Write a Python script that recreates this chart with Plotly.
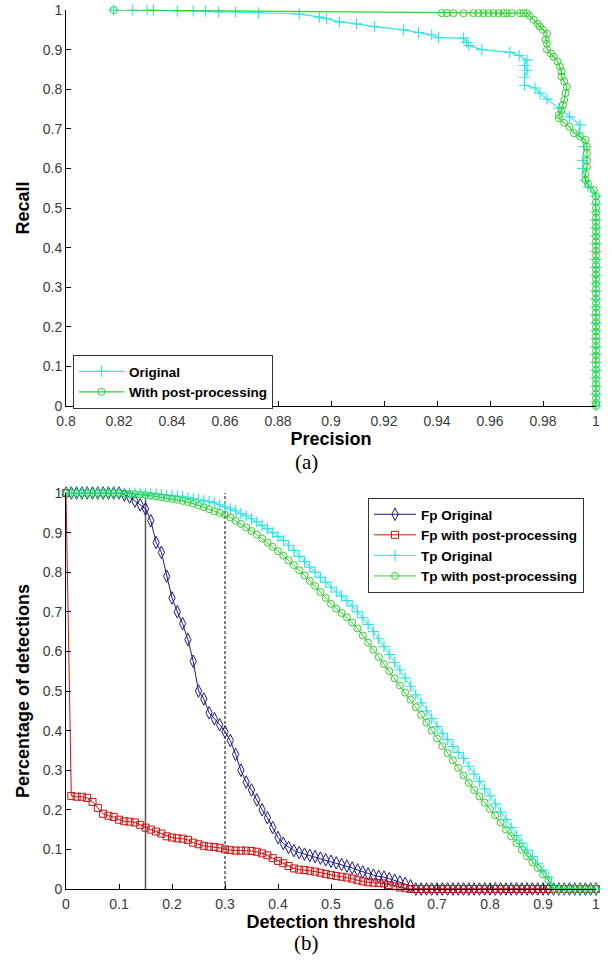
import plotly.graph_objects as go

# ---------------- (a) Precision / Recall ----------------
pr_orig_precision = [0.818, 0.825, 0.8306, 0.833, 0.842, 0.848, 0.8526, 0.8576, 0.864, 0.8727,
                     0.888, 0.8957, 0.8983, 0.9032, 0.9096, 0.9164, 0.9274, 0.933, 0.938, 0.9406,
                     0.950, 0.9512, 0.952, 0.9569, 0.9675, 0.971, 0.974, 0.973, 0.974, 0.973,
                     0.973, 0.977, 0.9788, 0.9815, 0.986, 0.990, 0.994, 0.9936, 0.9955, 0.995,
                     0.995, 0.996, 0.997,
                     1.0, 1.0, 1.0, 1.0, 1.0, 1.0, 1.0, 1.0, 1.0, 1.0, 1.0, 1.0, 1.0, 1.0,
                     1.0, 1.0, 1.0, 1.0, 1.0, 1.0, 1.0, 1.0, 1.0, 1.0, 1.0,
                     1.0, 1.0, 1.0]
pr_orig_recall = [1.0, 1.0, 1.0, 1.0, 0.998, 0.998, 0.997, 0.995, 0.995, 0.993,
                  0.99, 0.982, 0.978, 0.97, 0.965, 0.958, 0.95, 0.943, 0.937, 0.93,
                  0.929, 0.918, 0.91, 0.90, 0.893, 0.885, 0.874, 0.86, 0.848, 0.83,
                  0.81, 0.803, 0.79, 0.775, 0.752, 0.73, 0.71, 0.69, 0.655, 0.62,
                  0.60, 0.57, 0.553,
                  0.53, 0.51, 0.49, 0.47, 0.45, 0.43, 0.41, 0.39, 0.37, 0.35, 0.33, 0.31, 0.29, 0.27,
                  0.25, 0.23, 0.21, 0.19, 0.17, 0.15, 0.13, 0.11, 0.09, 0.07, 0.05,
                  0.03, 0.01, 0.0]

pr_post_precision = [0.818, 0.9418, 0.9437, 0.9462, 0.950, 0.9537, 0.9556, 0.9575, 0.9594, 0.9613,
                     0.9632, 0.9651, 0.9664, 0.9682, 0.9713, 0.9727, 0.974,
                     0.975, 0.9765, 0.978, 0.9788, 0.980, 0.9815, 0.981, 0.9815, 0.9815, 0.983,
                     0.984, 0.9855, 0.9864, 0.987, 0.987, 0.988, 0.989, 0.9885, 0.988, 0.9875,
                     0.987, 0.986, 0.986, 0.988, 0.990, 0.9917, 0.994, 0.996, 0.9966, 0.9966,
                     0.9966, 0.9966, 0.996, 0.996, 0.997, 0.9992, 1.0, 1.0]
pr_post_recall = [1.0, 0.992, 0.992, 0.992, 0.992, 0.992, 0.992, 0.992, 0.992, 0.992,
                  0.992, 0.992, 0.992, 0.992, 0.992, 0.992, 0.992,
                  0.985, 0.975, 0.965, 0.958, 0.95, 0.94, 0.925, 0.915, 0.90, 0.89,
                  0.882, 0.87, 0.857, 0.845, 0.832, 0.82, 0.806, 0.79, 0.773, 0.76,
                  0.747, 0.735, 0.727, 0.715, 0.705, 0.689, 0.68, 0.672, 0.655, 0.638,
                  0.62, 0.604, 0.585, 0.571, 0.56, 0.545, 0.53, 0.515]
pr_post_tail_recall = [0.50, 0.488, 0.476, 0.464, 0.452, 0.44, 0.428, 0.416, 0.404, 0.392,
                       0.38, 0.368, 0.356, 0.344, 0.332, 0.32, 0.308, 0.296, 0.284, 0.272,
                       0.26, 0.248, 0.236, 0.224, 0.212, 0.20, 0.188, 0.176, 0.164, 0.152,
                       0.14, 0.128, 0.116, 0.104, 0.092, 0.08, 0.068, 0.056, 0.044, 0.032,
                       0.02, 0.008, 0.0]
pr_post_tail_precision = [1.0] * len(pr_post_tail_recall)

prec_ticks = [0.8, 0.82, 0.84, 0.86, 0.88, 0.9, 0.92, 0.94, 0.96, 0.98, 1.0]
prec_ticklabels = ["0.8", "0.82", "0.84", "0.86", "0.88", "0.9", "0.92", "0.94", "0.96", "0.98", "1"]
unit_ticks = [0, 0.1, 0.2, 0.3, 0.4, 0.5, 0.6, 0.7, 0.8, 0.9, 1.0]
unit_ticklabels = ["0", "0.1", "0.2", "0.3", "0.4", "0.5", "0.6", "0.7", "0.8", "0.9", "1"]

# ---------------- (b) Detection threshold ----------------
threshold = [i / 100 for i in range(101)]

fp_original = [1, 1, 1, 1, 1, 1, 1, 1, 1, 1,
               1, 0.995, 0.99, 0.98, 0.97, 0.96, 0.93, 0.875, 0.85, 0.79,
               0.735, 0.70, 0.67, 0.63, 0.575, 0.50, 0.48, 0.445, 0.43, 0.415,
               0.397, 0.375, 0.34, 0.30, 0.27, 0.25, 0.225, 0.20, 0.18, 0.155,
               0.13, 0.115, 0.105, 0.097, 0.092, 0.088, 0.085, 0.082, 0.078, 0.074,
               0.07, 0.066, 0.062, 0.058, 0.053, 0.048, 0.043, 0.038, 0.035, 0.032,
               0.03, 0.026, 0.022, 0.018, 0.014, 0.008, 0, 0, 0, 0,
               0, 0, 0, 0, 0, 0, 0, 0, 0, 0,
               0, 0, 0, 0, 0, 0, 0, 0, 0, 0,
               0, 0, 0, 0, 0, 0, 0, 0, 0, 0,
               0]

fp_post = [1.0, 0.235, 0.233, 0.233, 0.23, 0.22, 0.205, 0.19, 0.185, 0.182,
           0.175, 0.171, 0.17, 0.168, 0.162, 0.155, 0.15, 0.145, 0.14, 0.133,
           0.13, 0.128, 0.127, 0.124, 0.117, 0.113, 0.109, 0.107, 0.106, 0.104,
           0.10, 0.098, 0.097, 0.097, 0.097, 0.096, 0.094, 0.09, 0.085, 0.078,
           0.071, 0.065, 0.058, 0.052, 0.049, 0.048, 0.046, 0.044, 0.041, 0.038,
           0.035, 0.033, 0.031, 0.029, 0.026, 0.022, 0.019, 0.017, 0.016, 0.015,
           0.014, 0.01, 0.007, 0.004, 0.002, 0, 0, 0, 0, 0,
           0, 0, 0, 0, 0, 0, 0, 0, 0, 0,
           0, 0, 0, 0, 0, 0, 0, 0, 0, 0,
           0, 0, 0, 0, 0, 0, 0, 0, 0, 0,
           0]

tp_original = [1, 1, 1, 1, 1, 1, 1, 1, 1, 1,
               1, 1, 1, 0.999, 0.999, 0.998, 0.998, 0.997, 0.996, 0.995,
               0.993, 0.992, 0.99, 0.988, 0.985, 0.983, 0.98, 0.978, 0.975, 0.97,
               0.965, 0.96, 0.955, 0.948, 0.942, 0.935, 0.927, 0.918, 0.91, 0.90,
               0.89, 0.88, 0.868, 0.855, 0.84, 0.827, 0.813, 0.80, 0.787, 0.775,
               0.762, 0.75, 0.74, 0.728, 0.715, 0.70, 0.685, 0.668, 0.65, 0.632,
               0.612, 0.592, 0.572, 0.553, 0.533, 0.512, 0.49, 0.47, 0.45, 0.43,
               0.41, 0.393, 0.377, 0.36, 0.345, 0.33, 0.31, 0.29, 0.272, 0.253,
               0.235, 0.215, 0.195, 0.175, 0.155, 0.135, 0.115, 0.098, 0.082, 0.065,
               0.047, 0.03, 0, 0, 0, 0, 0, 0, 0, 0,
               0]

tp_post = [1, 1, 1, 1, 1, 1, 1, 1, 1, 1,
           1, 0.999, 0.998, 0.997, 0.996, 0.995, 0.993, 0.991, 0.989, 0.987,
           0.985, 0.983, 0.98, 0.977, 0.973, 0.969, 0.964, 0.959, 0.954, 0.95,
           0.945, 0.938, 0.93, 0.922, 0.913, 0.904, 0.895, 0.885, 0.875, 0.864,
           0.853, 0.842, 0.83, 0.818, 0.805, 0.792, 0.778, 0.765, 0.75, 0.735,
           0.72, 0.708, 0.697, 0.686, 0.673, 0.658, 0.64, 0.622, 0.604, 0.586,
           0.568, 0.55, 0.532, 0.514, 0.496, 0.478, 0.459, 0.44, 0.42, 0.40,
           0.38, 0.361, 0.343, 0.325, 0.306, 0.287, 0.268, 0.25, 0.234, 0.218,
           0.202, 0.186, 0.168, 0.15, 0.133, 0.116, 0.099, 0.083, 0.068, 0.053,
           0.037, 0.022, 0, 0, 0, 0, 0, 0, 0, 0,
           0]

solid_threshold_x = [0.15, 0.15]
dashed_threshold_x = [0.3, 0.3]
threshold_line_y = [0, 1]

# ---------------- styling ----------------
CYAN = "#2ee6e6"
GREEN = "#2fd22f"
NAVY = "#1a1a8c"
RED = "#d01010"
TICKFONT = dict(family="Liberation Sans, Arial", size=14, color="#3a3a3a")
TITLEFONT = dict(family="Liberation Sans, Arial", size=18, color="black", weight="bold")
LEGFONT = dict(family="Liberation Sans, Arial", size=13.5, color="black", weight="bold")

W, H = 612, 965
x_dom = [66 / W, 596 / W]
top_dom = [1 - 406 / H, 1 - 10 / H]
bot_dom = [1 - 889 / H, 1 - 493 / H]

fig = go.Figure()

fig.add_trace(go.Scatter(
    x=pr_orig_precision, y=pr_orig_recall, name="Original", mode="lines+markers",
    line=dict(color=CYAN, width=1.2),
    marker=dict(symbol="cross-thin", size=8, line=dict(color=CYAN, width=1.1)),
    xaxis="x", yaxis="y", legend="legend", cliponaxis=False))
fig.add_trace(go.Scatter(
    x=pr_post_precision + pr_post_tail_precision, y=pr_post_recall + pr_post_tail_recall,
    name="With post-processing", mode="lines+markers",
    line=dict(color=GREEN, width=1.2),
    marker=dict(symbol="circle-open", size=7, color=GREEN, line=dict(width=1)),
    xaxis="x", yaxis="y", legend="legend", cliponaxis=False))

# bottom panel
fig.add_trace(go.Scatter(
    x=solid_threshold_x, y=threshold_line_y, mode="lines", showlegend=False,
    line=dict(color="#555555", width=1.5), xaxis="x2", yaxis="y2", hoverinfo="skip"))
fig.add_trace(go.Scatter(
    x=dashed_threshold_x, y=threshold_line_y, mode="lines", showlegend=False,
    line=dict(color="black", width=1, dash="3px,2px"), xaxis="x2", yaxis="y2", hoverinfo="skip"))

fig.add_trace(go.Scatter(
    x=threshold, y=fp_original, name="Fp Original", mode="lines+markers",
    line=dict(color=NAVY, width=1),
    marker=dict(symbol="diamond-tall-open", size=9, color=NAVY, line=dict(width=1)),
    xaxis="x2", yaxis="y2", legend="legend2", cliponaxis=False))
fig.add_trace(go.Scatter(
    x=threshold, y=fp_post, name="Fp with post-processing", mode="lines+markers",
    line=dict(color=RED, width=1),
    marker=dict(symbol="square-open", size=7, color=RED, line=dict(width=1)),
    xaxis="x2", yaxis="y2", legend="legend2", cliponaxis=False))
fig.add_trace(go.Scatter(
    x=threshold, y=tp_original, name="Tp Original", mode="lines+markers",
    line=dict(color=CYAN, width=1),
    marker=dict(symbol="cross-thin", size=8, line=dict(color=CYAN, width=1.2)),
    xaxis="x2", yaxis="y2", legend="legend2", cliponaxis=False))
fig.add_trace(go.Scatter(
    x=threshold, y=tp_post, name="Tp with post-processing", mode="lines+markers",
    line=dict(color=GREEN, width=1),
    marker=dict(symbol="circle-open", size=7, color=GREEN, line=dict(width=1)),
    xaxis="x2", yaxis="y2", legend="legend2", cliponaxis=False))

axis_common = dict(showgrid=False, zeroline=False, showline=True, linecolor="black", linewidth=1,
                   ticks="inside", ticklen=5, tickcolor="black", tickwidth=1,
                   tickfont=TICKFONT, mirror=False, automargin=False)

fig.update_layout(
    width=W, height=H,
    margin=dict(l=0, r=0, t=0, b=0),
    paper_bgcolor="white", plot_bgcolor="white",
    showlegend=True,
    xaxis=dict(domain=x_dom, range=[0.8, 1.0], tickvals=prec_ticks, ticktext=prec_ticklabels,
               anchor="y", ticklabelstandoff=2,
               title=dict(text="Precision", font=TITLEFONT, standoff=4), **axis_common),
    yaxis=dict(domain=top_dom, range=[0, 1.0], tickvals=unit_ticks, ticktext=unit_ticklabels,
               anchor="x", title=dict(text="Recall", font=TITLEFONT, standoff=8), **axis_common),
    xaxis2=dict(domain=x_dom, range=[0, 1.0], tickvals=unit_ticks, ticktext=unit_ticklabels,
                anchor="y2", ticklabelstandoff=2,
                title=dict(text="Detection threshold", font=TITLEFONT, standoff=4), **axis_common),
    yaxis2=dict(domain=bot_dom, range=[0, 1.0], tickvals=unit_ticks, ticktext=unit_ticklabels,
                anchor="x2", title=dict(text="Percentage of detections", font=TITLEFONT, standoff=8), **axis_common),
    legend=dict(x=73 / W, y=1 - 355 / H, xanchor="left", yanchor="top",
                bgcolor="white", bordercolor="#333333", borderwidth=1,
                font=LEGFONT, itemwidth=45, tracegroupgap=0),
    legend2=dict(x=368 / W, y=1 - 498 / H, xanchor="left", yanchor="top",
                 bgcolor="white", bordercolor="#333333", borderwidth=1,
                 font=LEGFONT, itemwidth=42, tracegroupgap=0),
    annotations=[
        dict(text="(a)", x=0.5, y=1 - 462 / H, xref="paper", yref="paper", showarrow=False,
             xanchor="center", yanchor="middle",
             font=dict(family="Liberation Serif, DejaVu Serif", size=21, color="black")),
        dict(text="(b)", x=0.5, y=1 - 943 / H, xref="paper", yref="paper", showarrow=False,
             xanchor="center", yanchor="middle",
             font=dict(family="Liberation Serif, DejaVu Serif", size=21, color="black")),
    ],
)

fig.write_html("out.html", config={"displayModeBar": False},
               post_script="document.body.style.margin='0';document.body.style.overflow='hidden';")
